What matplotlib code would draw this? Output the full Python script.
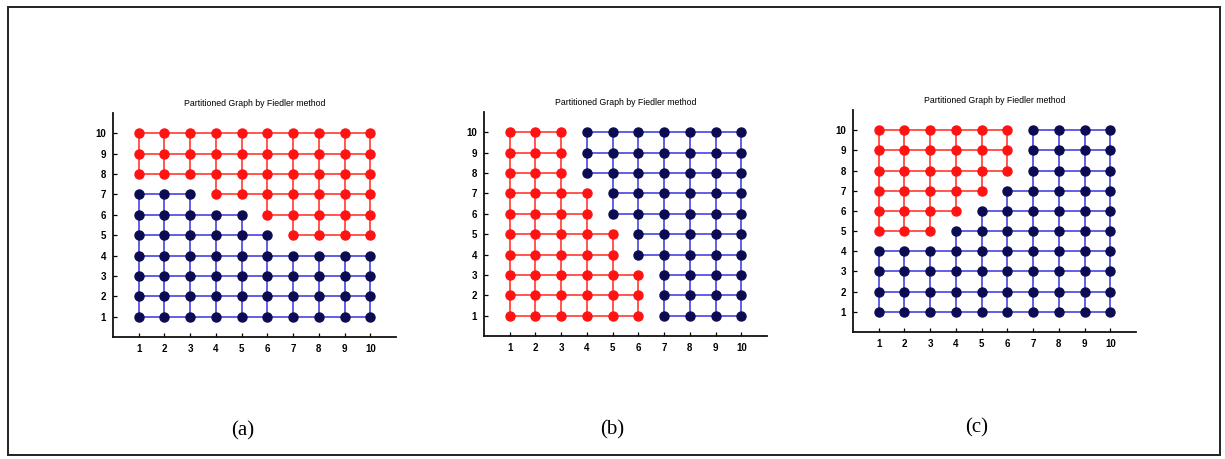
import matplotlib
matplotlib.use("Agg")
import matplotlib.pyplot as plt
from matplotlib.patches import Rectangle

# 10 x 10 grid graph, split in two by the sign of the Fiedler vector
cols = list(range(1, 11))
rows = list(range(1, 11))
tick_labels = [str(v) for v in range(1, 11)]

# (a) red part: in each row (1..10) from this column up to column 10
a_red_from = [11, 11, 11, 11, 7, 6, 4, 1, 1, 1]
# (b) red part: in each row (1..10) from column 1 up to this column
b_red_to = [6, 6, 6, 5, 5, 4, 4, 3, 3, 3]
# (c) red part: in each row (1..10) from column 1 up to this column
c_red_to = [0, 0, 0, 0, 3, 4, 5, 6, 6, 6]

panel_labels = ["(a)", "(b)", "(c)"]
title = "Partitioned Graph by Fiedler method"

RED_NODE = "#ff1212"
RED_EDGE = "#ff2a1e"
BLUE_NODE = "#0c0c52"
BLUE_EDGE = "#3434dc"


def membership_from(red_from):
    return {(c, r): c >= red_from[r - 1] for r in rows for c in cols}


def membership_to(red_to):
    return {(c, r): c <= red_to[r - 1] for r in rows for c in cols}


parts = [membership_from(a_red_from), membership_to(b_red_to), membership_to(c_red_to)]

# axes boxes in figure pixels: left, top, right, bottom
boxes = [(113, 113, 396, 337), (484, 112, 767, 336), (853, 110, 1136, 332)]
label_pos = [(243, 431), (612, 430), (977, 428)]

W, H = 1225, 459
fig = plt.figure(figsize=(W / 100, H / 100), dpi=100)
fig.patch.set_facecolor("white")

# outer frame around the whole figure
fig.add_artist(Rectangle((8 / W, 1 - 455 / H), (1220 - 8) / W, (455 - 7) / H,
                         transform=fig.transFigure, fill=False,
                         edgecolor="#222222", linewidth=1.4))

for part, (l, t, r, b), lab, (lx, ly) in zip(parts, boxes, panel_labels, label_pos):
    ax = fig.add_axes([l / W, 1 - b / H, (r - l) / W, (b - t) / H])
    ax.set_xlim(0, 11)
    ax.set_ylim(0, 11)
    for s in ("top", "right"):
        ax.spines[s].set_visible(False)
    for s in ("left", "bottom"):
        ax.spines[s].set_linewidth(1.3)
        ax.spines[s].set_color("#111111")
    ax.set_xticks(cols)
    ax.set_yticks(rows)
    ax.set_xticklabels(tick_labels)
    ax.set_yticklabels(tick_labels)
    ax.tick_params(direction="in", length=3, width=0.9, labelsize=7, pad=5)
    for tl in ax.get_xticklabels() + ax.get_yticklabels():
        tl.set_fontweight("bold")
        tl.set_family("Liberation Sans")

    # edges between grid neighbours in the same part
    for r in rows:
        for c in cols:
            red = part[(c, r)]
            color = RED_EDGE if red else BLUE_EDGE
            if c < 10 and part[(c + 1, r)] == red:
                ax.plot([c, c + 1], [r, r], color=color, lw=1.1, zorder=2)
            if r < 10 and part[(c, r + 1)] == red:
                ax.plot([c, c], [r, r + 1], color=color, lw=1.1, zorder=2)

    rx = [c for (c, r), v in part.items() if v]
    ry = [r for (c, r), v in part.items() if v]
    bx = [c for (c, r), v in part.items() if not v]
    by = [r for (c, r), v in part.items() if not v]
    ax.plot(rx, ry, "o", color=RED_NODE, ms=6.5, mec=RED_NODE, zorder=3)
    ax.plot(bx, by, "o", color=BLUE_NODE, ms=6.5, mec=BLUE_NODE, zorder=3)

    ax.set_title(title, fontsize=6.3, family="Liberation Sans", pad=5)

    fig.text(lx / W, 1 - ly / H, lab, ha="center", va="center",
             family="Liberation Serif", fontsize=15)

fig.savefig("out.png", dpi=100)
